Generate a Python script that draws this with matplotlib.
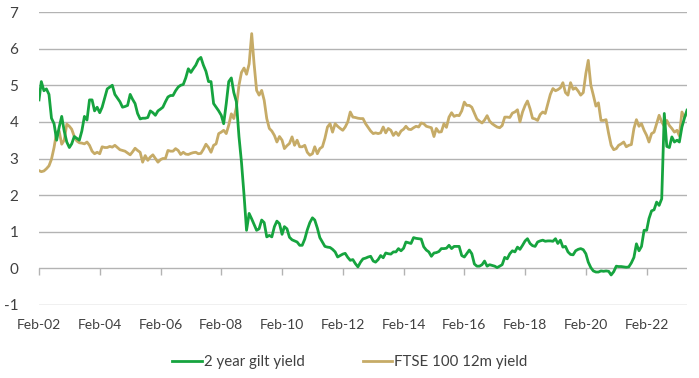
import matplotlib
matplotlib.use("Agg")
import matplotlib.pyplot as plt
import pandas as pd
import numpy as np

start_month = "2002-02-01"

gilt_2y = [
    4.6, 5.1, 4.85, 4.9, 4.75, 4.1, 3.95, 3.5, 3.85, 4.15, 3.75, 3.45,
    3.3, 3.4, 3.6, 3.55, 3.5, 3.75, 4.15, 4.05, 4.6, 4.6, 4.3, 4.4,
    4.25, 4.4, 4.65, 4.9, 4.95, 5.0, 4.75, 4.65, 4.55, 4.4, 4.42, 4.45,
    4.75, 4.62, 4.5, 4.23, 4.08, 4.1, 4.1, 4.12, 4.3, 4.25, 4.18, 4.3,
    4.35, 4.4, 4.55, 4.68, 4.72, 4.72, 4.85, 4.95, 5.0, 5.02, 5.2, 5.45,
    5.35, 5.45, 5.55, 5.7, 5.76, 5.55, 5.38, 5.1, 5.1, 4.5, 4.4, 4.3,
    4.18, 3.95, 4.5, 5.1, 5.2, 4.8, 4.55, 3.6, 2.9, 2.0, 1.04, 1.5,
    1.35, 1.2, 1.04, 1.08, 1.32, 1.25, 0.86, 0.9, 0.86, 1.14, 1.29, 1.22,
    0.93, 1.14, 1.08, 0.85, 0.78, 0.75, 0.72, 0.63, 0.63, 0.8, 1.05, 1.25,
    1.38, 1.32, 1.1, 0.84, 0.72, 0.6, 0.58, 0.57, 0.52, 0.45, 0.31, 0.35,
    0.39, 0.41, 0.3, 0.22, 0.24, 0.13, 0.04, 0.17, 0.26, 0.28, 0.31, 0.33,
    0.2, 0.17, 0.24, 0.35, 0.29, 0.42, 0.4, 0.39, 0.45, 0.45, 0.54, 0.48,
    0.55, 0.72, 0.7, 0.68, 0.84, 0.82, 0.81, 0.8, 0.59, 0.5, 0.45, 0.33,
    0.42, 0.43, 0.46, 0.54, 0.54, 0.55, 0.63, 0.54, 0.6, 0.6, 0.6, 0.35,
    0.31, 0.4, 0.5, 0.4, 0.12, 0.06, 0.06, 0.1, 0.2, 0.06, 0.1, 0.08,
    0.06, 0.02, 0.06, 0.1, 0.3, 0.26, 0.4, 0.48, 0.45, 0.58, 0.52, 0.63,
    0.75, 0.81, 0.68, 0.62, 0.6, 0.72, 0.75, 0.77, 0.74, 0.75, 0.75, 0.74,
    0.81, 0.68, 0.77, 0.58, 0.6, 0.45, 0.38, 0.37, 0.48, 0.52, 0.54, 0.51,
    0.4, 0.17, 0.02, -0.07, -0.1, -0.1, -0.07, -0.08, -0.07, -0.08, -0.18, -0.09,
    0.06, 0.05, 0.05, 0.04, 0.03, 0.04, 0.15, 0.3, 0.67, 0.48, 0.6, 1.04,
    1.04, 1.36, 1.57, 1.6, 1.81, 1.72, 1.9, 4.23, 3.33, 3.3, 3.59, 3.45,
    3.5, 3.45, 3.86, 4.1, 4.32,
]

ftse_12m = [
    2.67, 2.64, 2.66, 2.72, 2.8, 2.98, 3.3, 3.72, 3.75, 3.39, 3.5, 3.94,
    3.88, 3.8, 3.6, 3.48, 3.43, 3.42, 3.4, 3.45, 3.36, 3.2, 3.13, 3.17,
    3.13, 3.32, 3.3, 3.3, 3.33, 3.31, 3.36, 3.3, 3.24, 3.22, 3.2, 3.15,
    3.1, 3.18, 3.28, 3.22, 3.17, 2.9, 3.08, 2.95, 3.04, 3.1, 3.0, 2.9,
    2.97, 3.0, 3.0, 3.22, 3.2, 3.2, 3.27, 3.22, 3.11, 3.17, 3.12, 3.11,
    3.14, 3.16, 3.17, 3.13, 3.14, 3.25, 3.39, 3.3, 3.17, 3.36, 3.4, 3.68,
    3.72, 3.77, 3.68, 3.91, 4.22, 4.09, 4.4, 5.0, 5.35, 5.47, 5.3, 5.58,
    6.41, 5.6, 4.86, 4.73, 4.86, 4.59, 4.09, 3.82, 3.75, 3.63, 3.45, 3.6,
    3.5, 3.27, 3.35, 3.41, 3.59, 3.36, 3.5, 3.32, 3.32, 3.36, 3.17, 3.09,
    3.13, 3.32, 3.13, 3.27, 3.32, 3.55, 3.86, 3.95, 3.72, 3.95, 3.88, 3.82,
    3.77, 3.86, 4.0, 4.27, 4.13, 4.12, 4.1, 4.09, 4.09, 3.95, 3.85, 3.75,
    3.68, 3.7, 3.68, 3.7, 3.86, 3.7, 3.82, 3.77, 3.63, 3.72, 3.63, 3.75,
    3.8, 3.88, 3.8, 3.79, 3.84, 3.88, 3.86, 3.97, 3.95, 3.88, 3.86, 3.84,
    3.6, 3.82, 3.72, 3.73, 3.95, 3.85, 4.13, 4.25, 4.15, 4.18, 4.17, 4.3,
    4.54, 4.45, 4.45, 4.4, 4.24, 4.08, 4.02, 3.97, 4.05, 4.17, 4.02, 3.95,
    3.9, 3.86, 3.84, 3.9, 4.13, 4.13, 4.12, 4.24, 4.27, 4.33, 4.0, 4.27,
    4.45, 4.57, 4.36, 4.1, 4.08, 4.04, 4.2, 4.27, 4.23, 4.5, 4.75, 4.91,
    4.85, 4.88, 4.93, 5.07, 4.8, 4.73, 5.07, 4.89, 4.93, 4.84, 4.73, 4.8,
    5.32, 5.68, 5.0, 4.73, 4.43, 4.52, 4.04, 4.04, 4.06, 3.68, 3.36, 3.24,
    3.27, 3.36, 3.4, 3.45, 3.32, 3.36, 3.38, 3.82, 4.06, 3.88, 3.95, 3.77,
    3.63, 3.45, 3.68, 3.72, 3.95, 4.18, 4.0, 3.88, 4.04, 3.9, 3.82, 3.72,
    3.77, 3.62, 4.27, 4.13, 4.24,
]

tick_dates = ["2002-02-01", "2004-02-01", "2006-02-01", "2008-02-01", "2010-02-01",
              "2012-02-01", "2014-02-01", "2016-02-01", "2018-02-01", "2020-02-01",
              "2022-02-01"]
tick_labels = ["Feb-02", "Feb-04", "Feb-06", "Feb-08", "Feb-10", "Feb-12",
               "Feb-14", "Feb-16", "Feb-18", "Feb-20", "Feb-22"]
y_ticks = [-1, 0, 1, 2, 3, 4, 5, 6, 7]
series_names = ["2 year gilt yield", "FTSE 100 12m yield"]

dates = pd.date_range(start_month, periods=len(gilt_2y), freq="MS")
ticks = pd.to_datetime(tick_dates)

plt.rcParams["font.family"] = ["Lato", "DejaVu Sans"]
text_color = "#404040"
green = "#16a43f"
tan = "#c6ab67"
grid_color = "#b3b3b3"

fig = plt.figure(figsize=(6.99, 3.78), dpi=100)
ax = fig.add_axes([39 / 699, 1 - 305 / 378, (687 - 39) / 699, (305 - 12) / 378])

for y in y_ticks:
    ax.axhline(y, color=grid_color, lw=1.0, zorder=0)

ax.plot(dates, gilt_2y, color=green, lw=2.0, label=series_names[0], zorder=3)
ax.plot(dates, ftse_12m, color=tan, lw=2.0, label=series_names[1], zorder=2)

ax.set_ylim(-1, 7)
ax.set_xlim(dates[0], dates[-1])
ax.set_yticks(y_ticks)
ax.set_yticklabels([str(v) for v in y_ticks])
ax.set_xticks(ticks)
ax.set_xticklabels(tick_labels)
ax.tick_params(axis="x", length=0, pad=10, labelsize=10, labelcolor=text_color)
ax.tick_params(axis="y", length=0, pad=15, labelsize=11, labelcolor=text_color)
for s in ax.spines.values():
    s.set_visible(False)

sec = ax.secondary_xaxis(0.125)
sec.set_xticks(ticks)
sec.set_xticklabels([""] * len(ticks))
sec.tick_params(axis="x", direction="out", length=5, width=1.0, color=grid_color)
sec.spines["bottom"].set_visible(False)

fig.legend(loc="center", bbox_to_anchor=(350 / 699, 1 - 362 / 378), ncol=2,
           frameon=False, fontsize=10.8, handlelength=1.95, columnspacing=3.9,
           handletextpad=0.15, labelcolor=text_color)

fig.savefig("out.png", dpi=100)
